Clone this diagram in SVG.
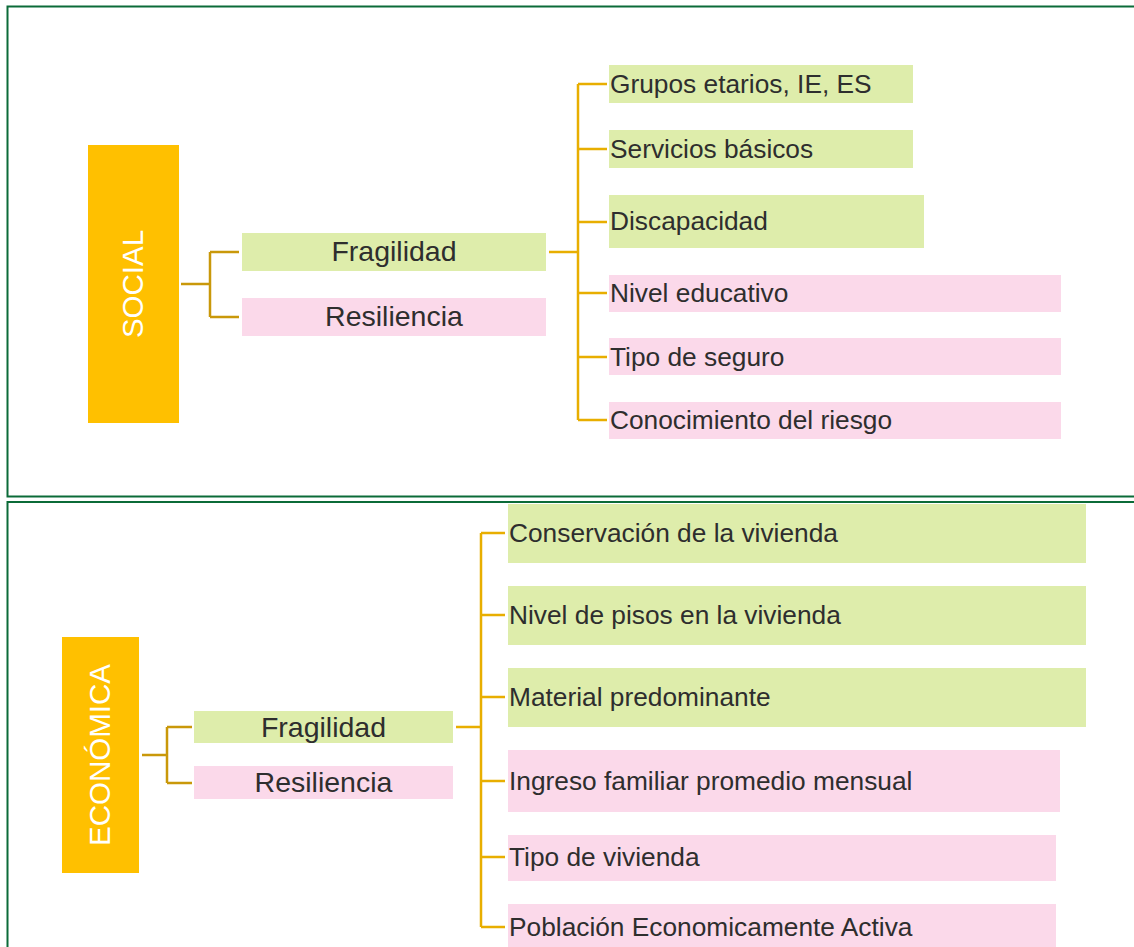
<svg xmlns="http://www.w3.org/2000/svg" width="1134" height="947" viewBox="0 0 1134 947">
<style>
.frame{fill:none;stroke:#0B6B38;stroke-width:2}
.cat{fill:#FFC000}
.cattxt{font-family:"Liberation Sans",Arial,sans-serif;font-size:29.5px;fill:#FFFFFF;text-anchor:middle}
.g{fill:#DEEDAB}
.p{fill:#FBD9EA}
.mid{font-family:"Liberation Sans",Arial,sans-serif;font-size:28.5px;fill:#2E2E2E;text-anchor:middle}
.leaf{font-family:"Liberation Sans",Arial,sans-serif;font-size:26.3px;fill:#2E2E2E}
.cl{fill:none;stroke:#C9980A;stroke-width:2.5}
.cr{fill:none;stroke:#E8AE00;stroke-width:2.5}
</style>
<rect width="1134" height="947" fill="#FFFFFF"/>
<rect class="frame" x="7.5" y="6.5" width="1140" height="490"/>
<rect class="frame" x="7.5" y="502" width="1140" height="460"/>

<g id="connectors">
<path class="cl" d="M181 284H210M210 252V317M210 252H239M210 317H239"/>
<path class="cr" d="M549 252H578M578 84V420M578 84H607M578 149H607M578 222H607M578 293H607M578 357H607M578 420H607"/>
<path class="cl" d="M142 755H167M167 727V783M167 727H192M167 783H192"/>
<path class="cr" d="M456 727H481M481 533V927M481 533H505M481 615H505M481 697H505M481 781H505M481 857H505M481 927H505"/>
</g>

<g id="social">
<rect class="cat" x="88" y="145" width="91" height="278"/>
<text class="cattxt" transform="translate(143,284) rotate(-90)">SOCIAL</text>
</g>
<g id="social-fragilidad">
<rect class="g" x="242" y="233" width="304" height="38"/>
<text class="mid" x="394" y="261">Fragilidad</text>
</g>
<g id="social-resiliencia">
<rect class="p" x="242" y="298" width="304" height="38"/>
<text class="mid" x="394" y="326">Resiliencia</text>
</g>
<g id="s1"><rect class="g" x="609" y="65" width="304" height="38"/><text class="leaf" x="610" y="93">Grupos etarios, IE, ES</text></g>
<g id="s2"><rect class="g" x="609" y="130" width="304" height="38"/><text class="leaf" x="610" y="158">Servicios básicos</text></g>
<g id="s3"><rect class="g" x="609" y="195" width="315" height="53"/><text class="leaf" x="610" y="230">Discapacidad</text></g>
<g id="s4"><rect class="p" x="609" y="275" width="452" height="37"/><text class="leaf" x="610" y="302">Nivel educativo</text></g>
<g id="s5"><rect class="p" x="609" y="338" width="452" height="37"/><text class="leaf" x="610" y="366">Tipo de seguro</text></g>
<g id="s6"><rect class="p" x="609" y="402" width="452" height="37"/><text class="leaf" x="610" y="429">Conocimiento del riesgo</text></g>

<g id="economica">
<rect class="cat" x="62" y="637" width="77" height="236"/>
<text class="cattxt" transform="translate(110,755) rotate(-90)">ECONÓMICA</text>
</g>
<g id="eco-fragilidad">
<rect class="g" x="194" y="711" width="259" height="32"/>
<text class="mid" x="323.5" y="737">Fragilidad</text>
</g>
<g id="eco-resiliencia">
<rect class="p" x="194" y="766" width="259" height="33"/>
<text class="mid" x="323.5" y="792">Resiliencia</text>
</g>
<g id="e1"><rect class="g" x="508" y="504" width="578" height="59"/><text class="leaf" x="509" y="542">Conservación de la vivienda</text></g>
<g id="e2"><rect class="g" x="508" y="586" width="578" height="59"/><text class="leaf" x="509" y="624">Nivel de pisos en la vivienda</text></g>
<g id="e3"><rect class="g" x="508" y="668" width="578" height="59"/><text class="leaf" x="509" y="706">Material predominante</text></g>
<g id="e4"><rect class="p" x="508" y="750" width="552" height="62"/><text class="leaf" x="509" y="790">Ingreso familiar promedio mensual</text></g>
<g id="e5"><rect class="p" x="508" y="835" width="548" height="46"/><text class="leaf" x="509" y="866">Tipo de vivienda</text></g>
<g id="e6"><rect class="p" x="508" y="904" width="548" height="60"/><text class="leaf" x="509" y="936">Población Economicamente Activa</text></g>
</svg>
